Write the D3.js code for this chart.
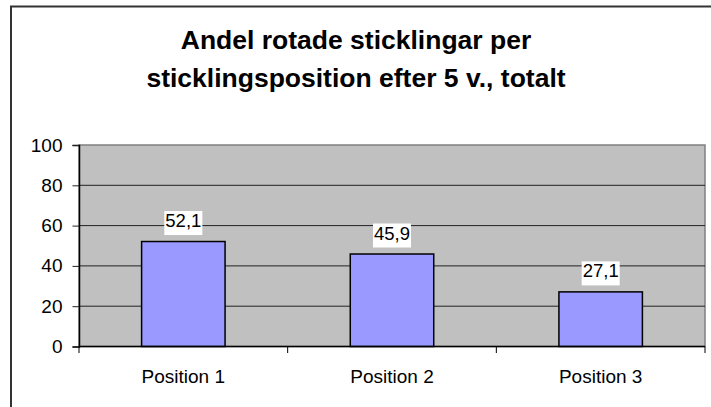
<!DOCTYPE html>
<html>
<head>
<meta charset="utf-8">
<script src="https://cdn.jsdelivr.net/npm/d3@7"></script>
<style>
    body { margin: 0; background: #fff; }
    svg { display: block; font-family: "Liberation Sans", Arial, sans-serif; }
</style>
</head>
<body>
<div id="chart"></div>
<script>
const categories = ['Position 1', 'Position 2', 'Position 3'];
const values = [52.1, 45.9, 27.1];
const yTicks = [0, 20, 40, 60, 80, 100];
const titleLines = ['Andel rotade sticklingar per', 'sticklingsposition efter 5 v., totalt'];

const width = 711;
const height = 407;
const margin = { top: 145, right: 6, bottom: 60.5, left: 79 };

const svg = d3.select('#chart')
    .append('svg')
    .attr('width', width)
    .attr('height', height);

// Outer chart frame
svg.append('rect')
    .attr('x', 11)
    .attr('y', 6.5)
    .attr('width', width)
    .attr('height', height)
    .attr('fill', 'none')
    .attr('stroke', '#333')
    .attr('stroke-width', 2);

// Title
svg.append('text')
    .attr('text-anchor', 'middle')
    .attr('font-size', 26.5)
    .attr('font-weight', 'bold')
    .selectAll('tspan')
    .data(titleLines)
    .join('tspan')
    .attr('x', 356)
    .attr('y', (d, i) => 48.5 + i * 38.3)
    .text(d => d);

const x = d3.scaleBand()
    .domain(categories)
    .range([margin.left, width - margin.right]);

const y = d3.scaleLinear()
    .domain([0, 100])
    .range([height - margin.bottom, margin.top]);

// Plot area
svg.append('rect')
    .attr('x', margin.left)
    .attr('y', y(100))
    .attr('width', width - margin.right - margin.left)
    .attr('height', y(0) - y(100))
    .attr('fill', '#c0c0c0')
    .attr('stroke', '#808080')
    .attr('stroke-width', 1.5);

// Gridlines
svg.append('g')
    .selectAll('line')
    .data(yTicks.filter(d => d > 0 && d < 100))
    .join('line')
    .attr('x1', margin.left)
    .attr('x2', width - margin.right)
    .attr('y1', d => y(d))
    .attr('y2', d => y(d))
    .attr('stroke', '#222')
    .attr('stroke-width', 1);

// Bars
const barW = x.bandwidth() * 0.4;
svg.append('g')
    .selectAll('rect')
    .data(values)
    .join('rect')
    .attr('x', (d, i) => x(categories[i]) + (x.bandwidth() - barW) / 2)
    .attr('y', d => y(d))
    .attr('width', barW)
    .attr('height', d => y(0) - y(d))
    .attr('fill', '#9999ff')
    .attr('stroke', '#000')
    .attr('stroke-width', 1.5);

// Y axis
const yAxis = svg.append('g')
    .attr('transform', `translate(${margin.left},0)`)
    .call(d3.axisLeft(y).tickValues(yTicks).tickSize(6.5).tickPadding(10));
yAxis.select('.domain').attr('stroke', '#000').attr('stroke-width', 1.5);
yAxis.selectAll('.tick line').attr('stroke', '#222');
yAxis.selectAll('.tick text')
    .attr('font-size', 19)
    .attr('font-family', '"Liberation Sans", Arial, sans-serif')
    .attr('fill', '#000');

// X axis with ticks between categories
const xAxisG = svg.append('g')
    .attr('transform', `translate(0,${y(0)})`);
xAxisG.append('line')
    .attr('x1', margin.left)
    .attr('x2', width - margin.right)
    .attr('stroke', '#000')
    .attr('stroke-width', 1.5);
xAxisG.selectAll('.sep')
    .data(categories.concat(['end']))
    .join('line')
    .attr('class', 'sep')
    .attr('x1', (d, i) => i < categories.length ? x(d) : x(categories[categories.length - 1]) + x.bandwidth())
    .attr('x2', (d, i) => i < categories.length ? x(d) : x(categories[categories.length - 1]) + x.bandwidth())
    .attr('y1', 0)
    .attr('y2', 6.5)
    .attr('stroke', '#000');
xAxisG.selectAll('.lbl')
    .data(categories)
    .join('text')
    .attr('class', 'lbl')
    .attr('x', d => x(d) + x.bandwidth() / 2)
    .attr('y', 36.5)
    .attr('text-anchor', 'middle')
    .attr('font-size', 19)
    .text(d => d);

// Value labels with white boxes
const fmt = v => v.toFixed(1).replace('.', ',');
const labels = svg.append('g')
    .selectAll('g')
    .data(values)
    .join('g')
    .attr('transform', (d, i) => `translate(${x(categories[i]) + x.bandwidth() / 2},${y(d) - 14.5})`);

labels.append('text')
    .attr('text-anchor', 'middle')
    .attr('font-size', 18.5)
    .text(d => fmt(d));

labels.each(function () {
    const g = d3.select(this);
    const bb = g.select('text').node().getBBox();
    g.insert('rect', 'text')
        .attr('x', bb.x - 1)
        .attr('y', bb.y + 1)
        .attr('width', bb.width + 2)
        .attr('height', bb.height + 3)
        .attr('fill', '#fff');
});
</script>
</body>
</html>
